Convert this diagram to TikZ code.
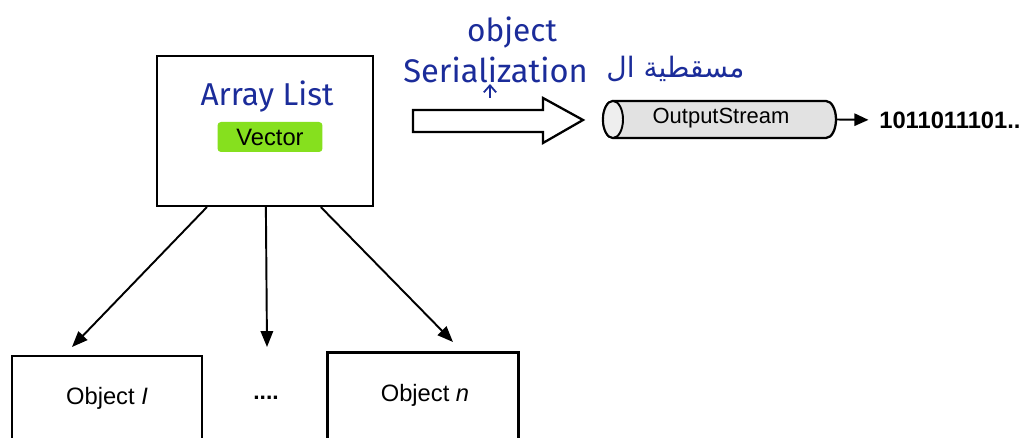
\documentclass[tikz,border=0pt]{standalone}
\usepackage{fontspec}
\setmainfont{Liberation Sans}
\newfontfamily\handfont{Fira Sans}
\newfontfamily\arabicfont[Script=Arabic]{DejaVu Sans}
\TeXXeTstate=1
\usetikzlibrary{arrows.meta,calc}
\definecolor{ink}{HTML}{1B2C9A}
\definecolor{marker}{HTML}{86E01E}
\definecolor{tube}{HTML}{E2E2E2}
\tikzset{
  box/.style={draw=black, line width=1.3pt, fill=white, inner sep=0pt},
  arr/.style={line width=1.1pt, -{Triangle[length=9pt,width=7pt]}},
  hand/.style={text=ink, font=\handfont\fontsize{18}{20}\selectfont, inner sep=0pt},
  printed/.style={font=\fontsize{13.5}{15}\selectfont, inner sep=0pt},
}
\begin{document}
\begin{tikzpicture}[x=0.02cm, y=-0.02cm]
  \fill[white] (0,0) rectangle (1024,438);
  \useasboundingbox (0,0) rectangle (1024,438);
  \clip (0,0) rectangle (1024,438);

  % container
  \node[box, minimum width=4.32cm, minimum height=3.0cm] (list) at (265,131) {};
  \node[hand] (al) at (267,97) {Array List};
  \node[fill=marker, rounded corners=2pt, minimum width=2.1cm, minimum height=0.6cm,
        printed] (vec) at (270,137) {Vector};

  % elements
  \node[box, minimum width=3.8cm, minimum height=1.8cm] (o1) at (107,401) {};
  \node[printed] at (107,398) {Object \textit{I}};
  \node[printed, font=\bfseries\fontsize{13}{15}\selectfont] (dots) at (266,398) {....};
  \node[box, minimum width=3.82cm, minimum height=1.86cm] (on) at (423,399) {};
  \node[printed] at (425,395) {Object \textit{n}};

  \coordinate (t1) at (72,347);
  \coordinate (t2) at (267,347);
  \coordinate (t3) at (453,342);
  \draw[arr] ($(list.south west)+(51,0)$) -- (t1);
  \draw[arr] ($(list.south west)+(110,0)$) -- (t2);
  \draw[arr] ($(list.south west)+(165,0)$) -- (t3);

  % hollow arrow
  \draw[line width=1.3pt, fill=white, line join=miter]
    (413,110) -- (543,110) -- (543,98) -- (583,120) -- (543,143) -- (543,132) -- (413,132) -- cycle;

  % labels above
  \node[hand] (obj) at (512,33) {object};
  \node[hand, font=\handfont\fontsize{18.6}{20}\selectfont, anchor=west] (ser) at (403,70) {Serialization};
  \node[text=ink, font=\arabicfont\fontsize{16}{18}\selectfont, inner sep=0pt, anchor=west] (ar) at (606,69)
    {\beginR مسقطية ال\endR};
  \coordinate (cstart) at (490,98);
  \coordinate (cend) at (490,84);
  \draw[ink, line width=1pt, -{Straight Barb[length=4pt,width=7pt]}] (cstart) -- (cend);

  % stream tube
  \fill[tube] (613,101) -- (826,101) arc[start angle=90, end angle=-90, x radius=0.2cm, y radius=0.37cm]
    -- (613,138) arc[start angle=270, end angle=90, x radius=0.2cm, y radius=0.37cm] -- cycle;
  \draw[line width=1.3pt] (613,101) -- (826,101) arc[start angle=90, end angle=-90, x radius=0.2cm, y radius=0.37cm]
    -- (613,138) arc[start angle=270, end angle=90, x radius=0.2cm, y radius=0.37cm] -- cycle;
  \draw[line width=1.1pt, fill=tube!60] (613,119.5) ellipse[x radius=0.2cm, y radius=0.37cm];
  \node[printed, font=\fontsize{12.5}{14}\selectfont] (stream) at (721,118) {OutputStream};
  \coordinate (tubeend) at (836,119.5);
  \node[printed, font=\bfseries\fontsize{13.5}{15}\selectfont, anchor=west] (bits) at (879,120) {1011011101..};
  \draw[line width=1.1pt, -{Triangle[length=8pt,width=7pt]}, shorten >=6pt] (tubeend) -- (bits.west);
\end{tikzpicture}
\end{document}
